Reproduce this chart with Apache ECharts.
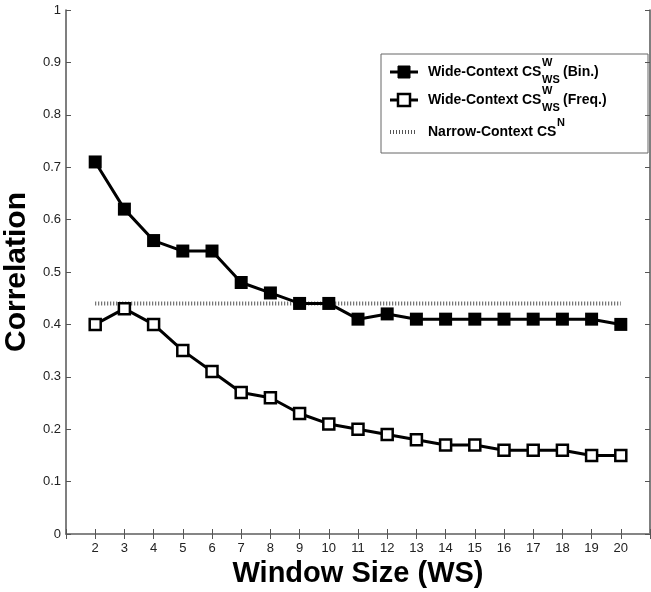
<!DOCTYPE html>
<html>
<head>
<meta charset="utf-8">
<script src="https://cdn.jsdelivr.net/npm/echarts@6/dist/echarts.min.js"></script>
<style>
  html, body { margin: 0; padding: 0; background: #fff; }
  #main { width: 651px; height: 592px; }
</style>
</head>
<body>
<div id="main"></div>
<script>
// 数据
var windowSizes = [2, 3, 4, 5, 6, 7, 8, 9, 10, 11, 12, 13, 14, 15, 16, 17, 18, 19, 20];
var binValues = [0.71, 0.62, 0.56, 0.54, 0.54, 0.48, 0.46, 0.44, 0.44, 0.41, 0.42, 0.41, 0.41, 0.41, 0.41, 0.41, 0.41, 0.41, 0.40];
var freqValues = [0.40, 0.43, 0.40, 0.35, 0.31, 0.27, 0.26, 0.23, 0.21, 0.20, 0.19, 0.18, 0.17, 0.17, 0.16, 0.16, 0.16, 0.15, 0.15];
var narrowValue = 0.44;

var fontFam = '"Liberation Sans", Arial, sans-serif';
var axisColor = '#555';

function toPairs(values) {
  return windowSizes.map(function (w, i) { return [w, values[i]]; });
}

var myChart = echarts.init(document.getElementById('main'));

// 图例（手工绘制，带上下标）
function legendRow(y, kind, mainText, scriptX, sup, sub, tail) {
  var items = [];
  if (kind === 'dotted') {
    items.push({ type: 'line', shape: { x1: 390, y1: y, x2: 417, y2: y },
      style: { stroke: '#555', lineWidth: 4, lineDash: [1, 2] } });
  } else {
    items.push({ type: 'line', shape: { x1: 390, y1: y, x2: 418, y2: y },
      style: { stroke: '#000', lineWidth: 3 } });
    items.push({ type: 'rect', shape: { x: 398, y: y - 6, width: 12, height: 12 },
      style: { fill: kind === 'filled' ? '#000' : '#fff', stroke: '#000', lineWidth: kind === 'filled' ? 1 : 2.5 } });
  }
  items.push({ type: 'text', x: 428, y: y, style: { text: mainText, font: 'bold 14px ' + fontFam, fill: '#000', verticalAlign: 'middle' } });
  if (sup) items.push({ type: 'text', x: scriptX, y: y - 9, style: { text: sup, font: 'bold 11px ' + fontFam, fill: '#000', verticalAlign: 'middle' } });
  if (sub) items.push({ type: 'text', x: scriptX, y: y + 8, style: { text: sub, font: 'bold 11px ' + fontFam, fill: '#000', verticalAlign: 'middle' } });
  if (tail) items.push({ type: 'text', x: 563, y: y, style: { text: tail, font: 'bold 14px ' + fontFam, fill: '#000', verticalAlign: 'middle' } });
  return items;
}

var legendItems = [{ type: 'rect', shape: { x: 381, y: 54, width: 267, height: 99 },
  style: { fill: '#fff', stroke: '#666', lineWidth: 1 } }]
  .concat(legendRow(72, 'filled', 'Wide-Context CS', 542, 'W', 'WS', '(Bin.)'))
  .concat(legendRow(100, 'open', 'Wide-Context CS', 542, 'W', 'WS', '(Freq.)'))
  .concat(legendRow(132, 'dotted', 'Narrow-Context CS', 557, 'N', null, null));

var option = {
  animation: false,
  backgroundColor: '#fff',
  grid: { left: 66, right: 1, top: 10, bottom: 58, containLabel: false, outerBoundsMode: 'none' },
  xAxis: [
    {
      type: 'value', min: 1, max: 21, interval: 1,
      name: 'Window Size (WS)', nameLocation: 'middle', nameGap: 20,
      nameTextStyle: { fontFamily: fontFam, fontWeight: 'bold', fontSize: 29, color: '#000' },
      axisLine: { lineStyle: { color: axisColor, width: 1.5 } },
      axisTick: { show: true, inside: true, length: 5, lineStyle: { color: axisColor } },
      axisLabel: {
        margin: 8, fontFamily: fontFam, fontSize: 13, color: '#222',
        formatter: function (v) { return (v < 2 || v > 20) ? '' : String(v); }
      },
      splitLine: { show: false }
    },
    {
      type: 'value', position: 'top', min: 1, max: 21, interval: 1,
      axisLine: { show: true, lineStyle: { color: '#888', width: 1.5 } },
      axisTick: { show: true, inside: false, length: -5, lineStyle: { color: axisColor } },
      axisLabel: { show: false },
      splitLine: { show: false }
    }
  ],
  yAxis: [
    {
      type: 'value', min: 0, max: 1, interval: 0.1,
      name: 'Correlation', nameLocation: 'middle', nameGap: 32,
      nameTextStyle: { fontFamily: fontFam, fontWeight: 'bold', fontSize: 30, color: '#000' },
      axisLine: { show: true, lineStyle: { color: axisColor, width: 1.5 } },
      axisTick: { show: true, inside: true, length: 5, lineStyle: { color: axisColor } },
      axisLabel: {
        margin: 5, fontFamily: fontFam, fontSize: 13, color: '#222',
        formatter: function (v) { return String(+v.toFixed(1)); }
      },
      splitLine: { show: false }
    },
    {
      type: 'value', position: 'right', min: 0, max: 1, interval: 0.1,
      axisLine: { show: true, lineStyle: { color: axisColor, width: 1.5 } },
      axisTick: { show: true, inside: false, length: -5, lineStyle: { color: axisColor } },
      axisLabel: { show: false },
      splitLine: { show: false }
    }
  ],
  series: [
    {
      name: 'Narrow-Context CS',
      type: 'line',
      symbol: 'none',
      data: [[windowSizes[0], narrowValue], [windowSizes[windowSizes.length - 1], narrowValue]],
      lineStyle: { color: '#555', width: 4, type: [1, 2] },
      z: 1
    },
    {
      name: 'Wide-Context (Freq.)',
      type: 'line',
      data: toPairs(freqValues),
      symbol: 'rect', symbolSize: 11,
      lineStyle: { color: '#000', width: 3 },
      itemStyle: { color: '#fff', borderColor: '#000', borderWidth: 2.5 },
      z: 2
    },
    {
      name: 'Wide-Context (Bin.)',
      type: 'line',
      data: toPairs(binValues),
      symbol: 'rect', symbolSize: 13,
      lineStyle: { color: '#000', width: 3 },
      itemStyle: { color: '#000', borderColor: '#000', borderWidth: 0 },
      z: 3
    }
  ],
  graphic: { elements: legendItems }
};

myChart.setOption(option);
</script>
</body>
</html>
